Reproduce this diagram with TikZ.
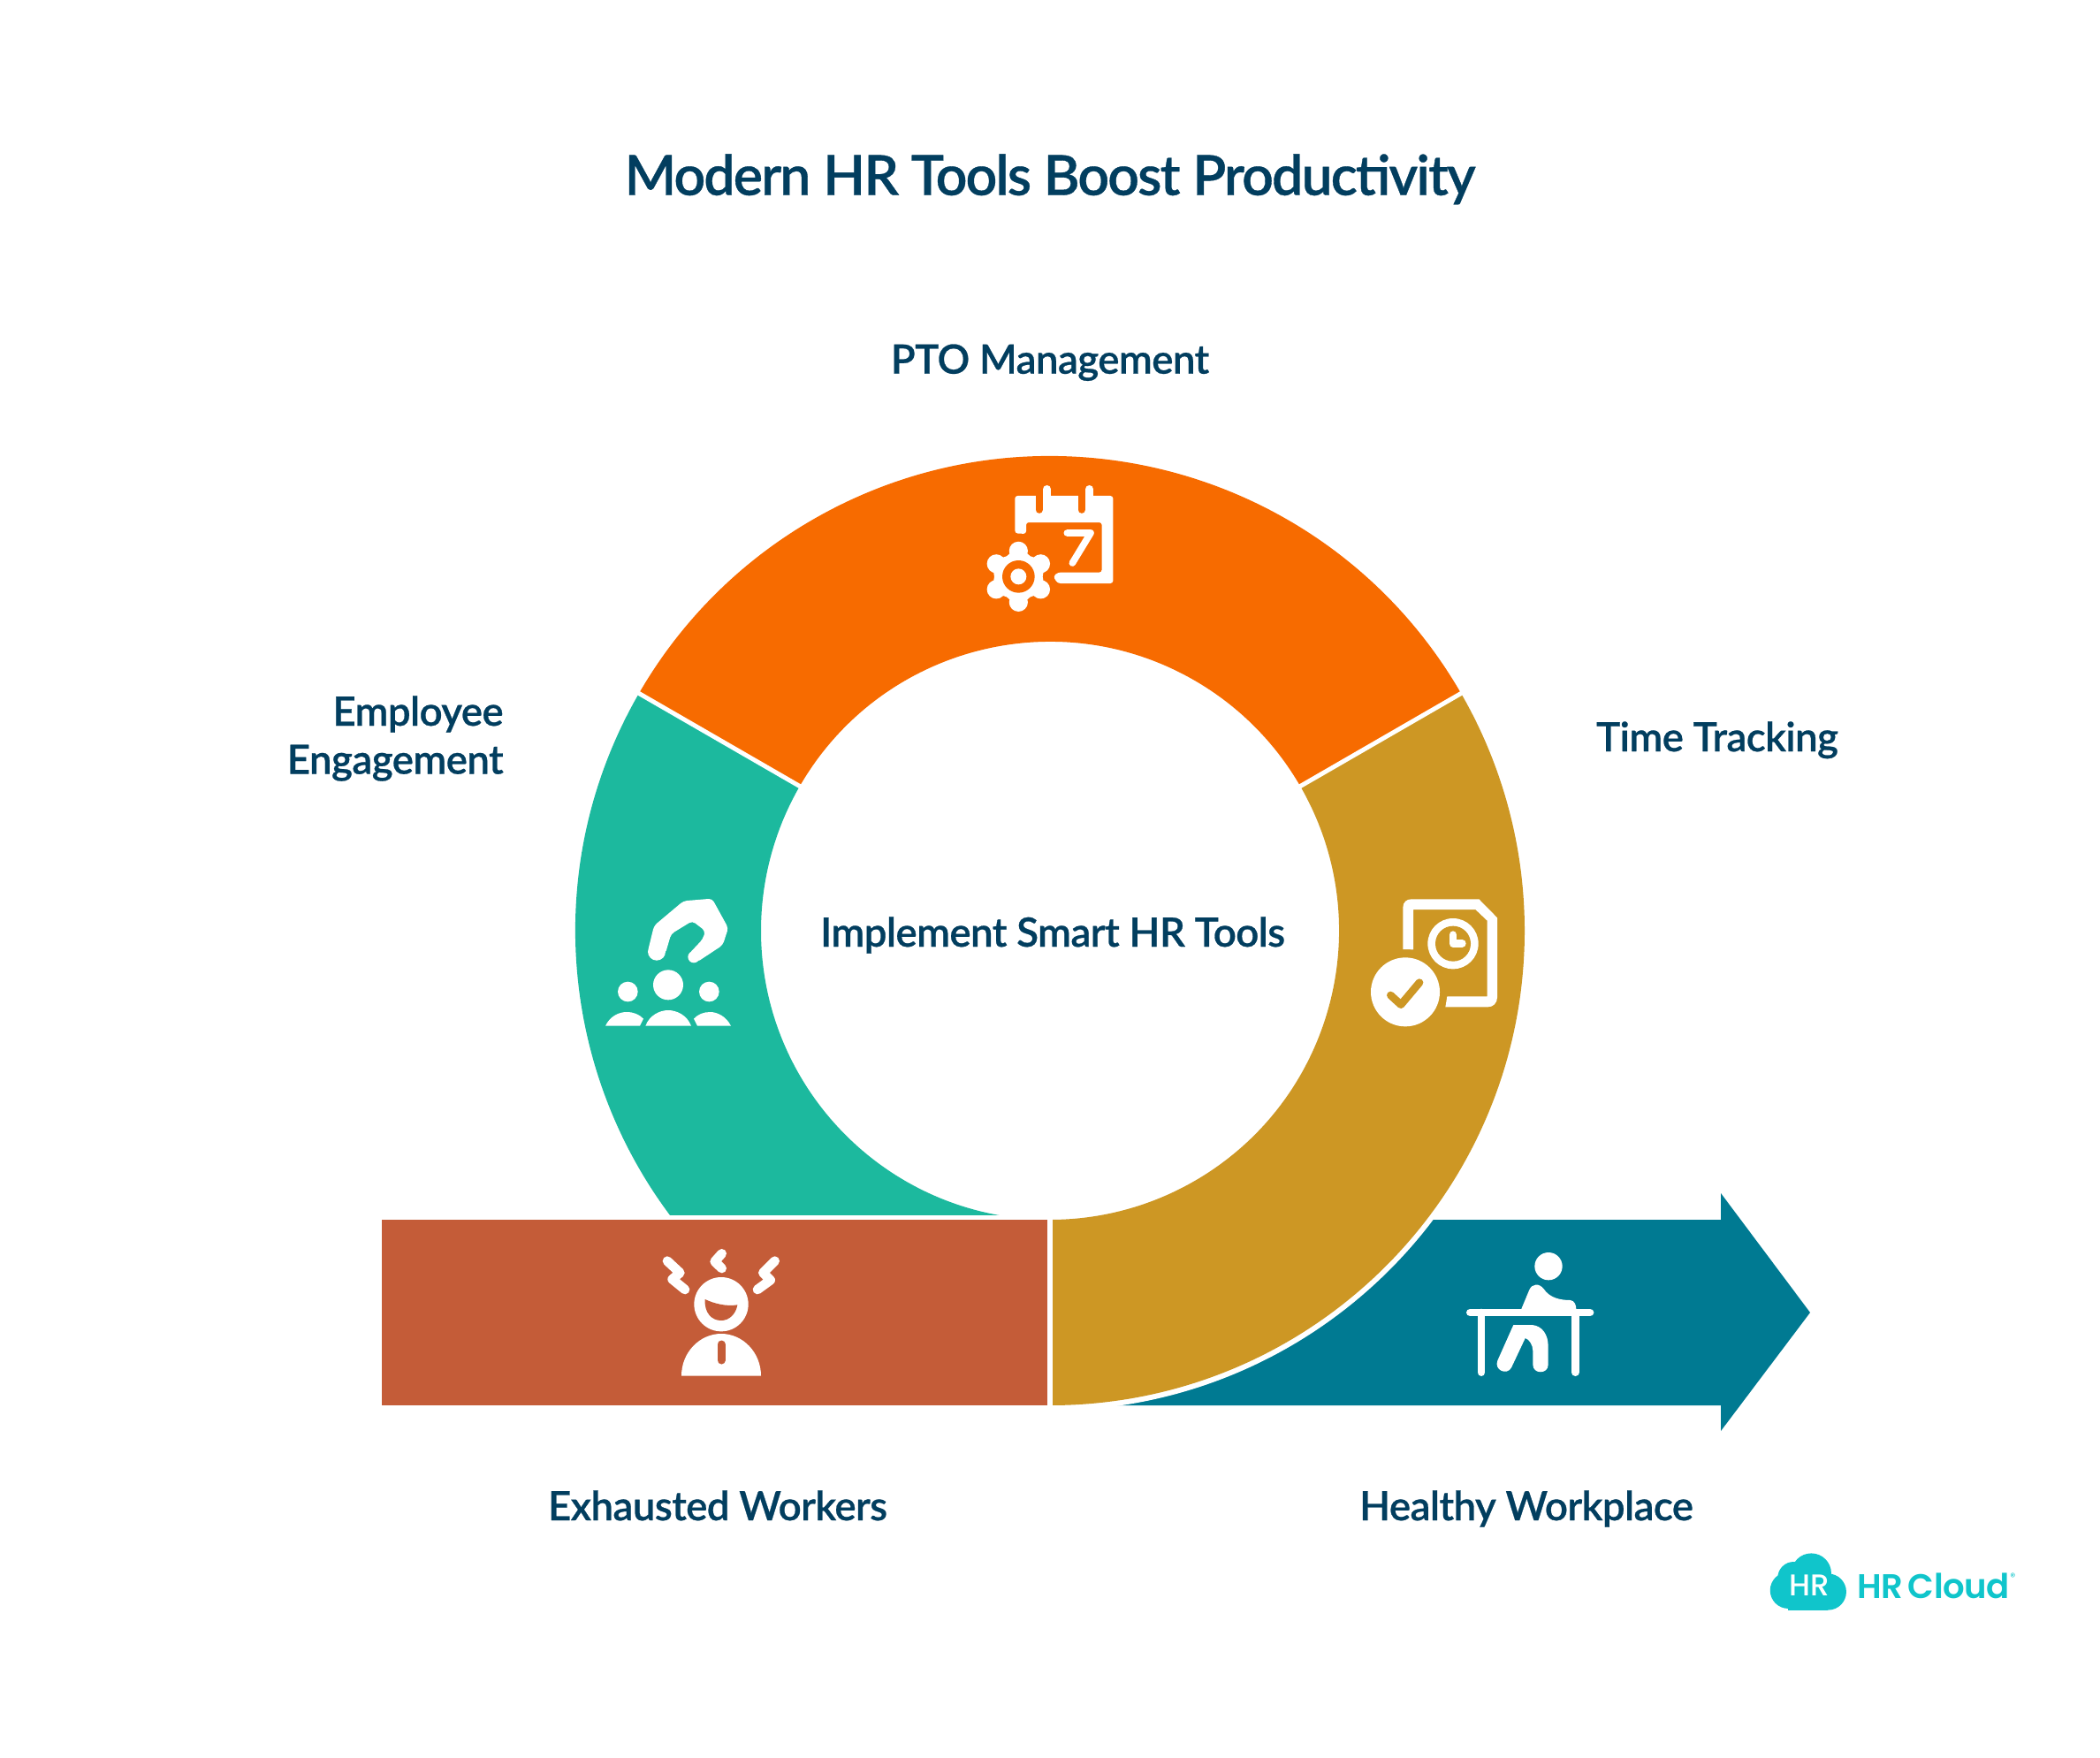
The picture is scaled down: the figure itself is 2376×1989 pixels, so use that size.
\documentclass[tikz,border=0pt]{standalone}
\usepackage{fontspec}
\setmainfont{Lato}
\newfontfamily\lblfont[LetterSpace=-1.25,FakeBold=0.55]{Lato Semibold}
\newfontfamily\ttlfont[LetterSpace=-3.0,FakeBold=0.55]{Lato Semibold}
\newfontfamily\logofont[LetterSpace=-1.0,WordSpace=0.6]{Poppins SemiBold}
\newfontfamily\logomedium{Poppins Medium}
\newfontfamily\logoregular{Poppins}
\definecolor{cOrange}{HTML}{F76B00}
\definecolor{cTeal}{HTML}{1CB99E}
\definecolor{cGold}{HTML}{CD9724}
\definecolor{cRed}{HTML}{C45C38}
\definecolor{cArrow}{HTML}{007A92}
\definecolor{cText}{HTML}{023E5F}
\definecolor{cLogo}{HTML}{10C5CB}
\newcommand{\seg}[2]{([shift={(1188,-1053)}]#1:537) arc[start angle=#1,end angle=#2,radius=268.5pt] -- ([shift={(1188,-1053)}]#2:327) arc[start angle=#2,end angle=#1,radius=163.5pt] -- cycle}
\newcommand{\zc}[4]{\fill[#4] (#1,#2) circle[radius={#3/6*1pt}];}
\tikzset{
  label/.style={font=\lblfont\fontsize{22.8pt}{27.3pt}\selectfont,text=cText,inner sep=0pt,anchor=base},
  titlelabel/.style={font=\ttlfont\fontsize{31.3pt}{36pt}\selectfont,text=cText,inner sep=0pt,anchor=base},
  zoomed/.style 2 args={shift={(#1,-#2)},x=0.166667pt,y=-0.166667pt},
  stk/.style={line cap=round,line join=round,line width={#1/6*1pt}}
}
\begin{document}
\begin{tikzpicture}[x=0.5pt,y=0.5pt]
\useasboundingbox (0,0) rectangle (2376,-1989);
\fill[white] (0,0) rectangle (2376,-1989);
% ring segments
\begin{scope}
\clip (0,-1374) rectangle (2376,0);
\fill[cTeal] \seg{150}{270};
\end{scope}
% arrow
\fill[cArrow] (1188,-1380) -- (1947,-1380) -- (1947,-1350) -- (2048,-1485) -- (1947,-1619) -- (1947,-1590) -- (1188,-1590) -- cycle;
\draw[white,line width=6pt] \seg{-90}{30};
\fill[cOrange] \seg{30}{150};
\fill[cRed] (432,-1380) rectangle (1185,-1590);
\draw[white,line width=3pt] (1188,-1370) -- (1188,-1600);
\begin{scope}
\clip (1191,-700) rectangle (1800,-1589.5);
\fill[cGold] \seg{-90}{30};
\end{scope}
\draw[white,line width=2.5pt] ([shift={(1188,-1053)}]30:320) -- ([shift={(1188,-1053)}]30:545);
\draw[white,line width=2.5pt] ([shift={(1188,-1053)}]150:320) -- ([shift={(1188,-1053)}]150:545);
% labels
\node[titlelabel] (title) at (1188,-220.7) {Modern HR Tools Boost Productivity};
\node[label] (pto) at (1188,-422.7) {PTO Management};
\node[label,anchor=base east] (emp1) at (570,-821) {Employee};
\node[label,anchor=base east] (emp2) at (570,-875.5) {Engagement};
\node[label] (time) at (1943,-850) {Time Tracking};
\node[label] (impl) at (1191,-1071) {Implement Smart HR Tools};
\node[label] (exh) at (812,-1720) {Exhausted Workers};
\node[label] (heal) at (1727,-1720) {Healthy Workplace};
% calendar icon
\begin{scope}[zoomed={1080}{520}]
\fill[white,rounded corners=1.5pt] (205,250) -- (205,123) -- (538,123) -- (538,420) -- (350,420) -- (335,397) -- (350,383) -- (500,383) -- (500,213) -- (243,213) -- (243,252) -- cycle;
\draw[cOrange,stk=25] (287,110) -- (287,170);
\draw[cOrange,stk=25] (431,110) -- (431,170);
\draw[white,stk=26] (314,100) -- (314,150);
\draw[white,stk=26] (458,100) -- (458,150);
\draw[white,stk=23] (382,249) -- (462,249) -- (400,351);
\begin{scope}[shift={(217,397)}]
\fill[white] plot[smooth cycle,tension=0.7] coordinates {(90:105)(60:80)(30:105)(0:82)(-30:105)(-60:80)(-90:105)(-120:80)(-150:105)(180:82)(150:105)(120:80)};
\foreach \a in {30,90,150,210,270,330}{\fill[white] (\a:87) circle[radius=5.3pt];}
\end{scope}
\zc{217}{397}{55}{cOrange}
\zc{217}{397}{27}{white}
\end{scope}
% engagement icon
\begin{scope}[zoomed={660}{990}]
\fill[white,rounded corners=2pt] (219,258) -- (240,172) -- (340,88) -- (437,80) -- (492,180) -- (473,238) -- (385,296) -- (358,268) -- (405,218) -- (414,190) -- (370,156) -- (298,200) -- (278,268) -- cycle;
\zc{249}{260}{30}{white}
\zc{375}{278}{20}{white}
\zc{288}{373}{51}{white}
\zc{151}{396}{34}{white}
\zc{427}{396}{34}{white}
\fill[white] (211,512) .. controls (225,475) and (260,459) .. (288,459) .. controls (316,459) and (352,475) .. (366,512) -- cycle;
\fill[white] (75,512) .. controls (90,480) and (120,465) .. (147,465) .. controls (170,465) and (190,473) .. (204,488) -- (192,512) -- cycle;
\fill[white] (501,512) .. controls (485,480) and (455,465) .. (430,465) .. controls (408,465) and (388,473) .. (375,488) -- (387,512) -- cycle;
\end{scope}
% time icon
\begin{scope}[zoomed={1530}{990}]
\fill[white] (172,252) -- (172,110) .. controls (172,92) and (185,82) .. (200,82) -- (430,82) -- (492,145) -- (492,415) .. controls (492,435) and (478,448) .. (460,448) -- (316,448) -- (322,412) -- (458,412) -- (458,155) -- (418,117) -- (207,117) -- (207,253) -- cycle;
\zc{342}{233}{86}{white}
\zc{342}{233}{60}{cGold}
\draw[white,stk=26] (342,203) -- (342,232) -- (373,232);
\zc{180}{397}{117}{white}
\draw[cGold,stk=26] (130,408) -- (165,440) -- (228,365);
\end{scope}
% exhausted icon
\begin{scope}[zoomed={720}{1390}]
\draw[white,stk=32] (105,110) -- (148,150) -- (122,172) -- (165,207);
\draw[white,stk=32] (470,110) -- (430,150) -- (455,175) -- (411,207);
\draw[white,stk=32] (290,85) -- (266,112) -- (290,135);
\zc{288}{257}{92}{white}
\fill[cRed] (233,240) .. controls (265,255) and (305,265) .. (343,259) .. controls (338,290) and (315,312) .. (288,312) .. controls (255,312) and (230,285) .. (233,240) -- cycle;
\fill[white] (153,500) .. controls (153,420) and (215,357) .. (288,357) .. controls (361,357) and (423,420) .. (423,500) -- cycle;
\draw[cRed,stk=27] (288,393) -- (288,447);
\end{scope}
% desk icon
\begin{scope}[zoomed={1640}{1400}]
\zc{336}{98}{47}{white}
\draw[white,stk=26] (70,255) -- (477,255);
\draw[white,stk=26] (108,255) -- (108,458);
\draw[white,stk=26] (427,255) -- (427,458);
\fill[white] (243,245) -- (270,180) .. controls (280,155) and (305,155) .. (320,175) .. controls (340,205) and (375,213) .. (410,213) .. controls (425,215) and (430,230) .. (430,245) -- cycle;
\fill[white] (217,297) -- (280,297) .. controls (315,300) and (335,330) .. (335,370) -- (335,432) .. controls (335,465) and (283,465) .. (283,432) -- (283,385) .. controls (283,365) and (270,345) .. (257,342) -- (210,442) .. controls (195,470) and (150,450) .. (163,418) -- cycle;
\end{scope}
% logo
\begin{scope}[zoomed={1990}{1740}]
\fill[cLogo] (100,178) circle[radius=10.3pt];
\fill[cLogo] (178,120) circle[radius=11.3pt];
\fill[cLogo] (235,183) circle[radius=10.3pt];
\fill[cLogo] (118,135) circle[radius=9pt];
\fill[cLogo] (100,170) rectangle (235,245);
\node[font=\logomedium\fontsize{17pt}{17pt}\selectfont,text=white,inner sep=0pt,anchor=base] (logoHR) at (172,196) {HR};
\node[font=\logofont\fontsize{19.3pt}{20pt}\selectfont,text=cLogo,inner sep=0pt,anchor=base west] (logoName) at (333,205) {HR Cloud};
\node[font=\logoregular\fontsize{6pt}{6pt}\selectfont,text=cLogo,inner sep=0pt] (logoR) at (862,132) {®};
\end{scope}
\end{tikzpicture}
\end{document}
